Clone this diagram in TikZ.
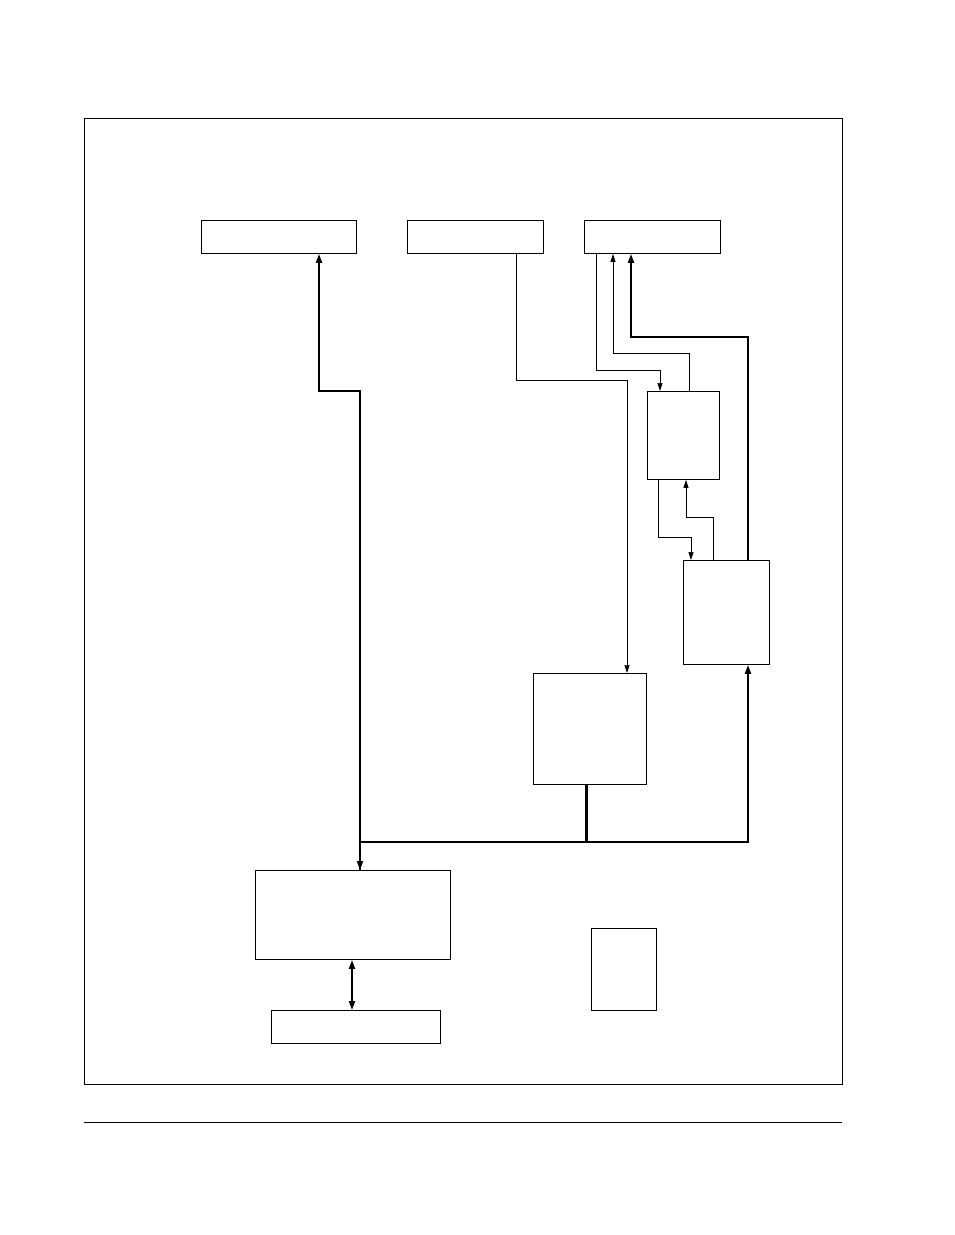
\documentclass[tikz,border=0pt]{standalone}
\usetikzlibrary{arrows.meta}
\begin{document}
\begin{tikzpicture}[x=1pt,y=-1pt,
  box/.style={draw,line width=0.9pt,inner sep=0pt,anchor=north west},
  thin/.style={line width=0.7pt},
  thick/.style={line width=2pt},
  tip/.style={-{Triangle[length=9pt,width=6pt]}},
  stip/.style={-{Triangle[length=8pt,width=5pt]}}]
\useasboundingbox (0,0) rectangle (954,1235);
\draw[line width=1pt] (84,118) rectangle (842,1084);
\draw[line width=0.8pt] (84,1122) -- (842,1122);
\newcommand{\bx}[5]{\node[box,minimum width=#4-#2,minimum height=#5-#3] (#1) at (#2,#3) {};}
\bx{A}{201}{220}{356}{253}
\bx{B}{407}{220}{543}{253}
\bx{C}{584}{220}{720}{253}
\bx{D}{647}{391}{719}{479}
\bx{E}{683}{560}{769}{664}
\bx{F}{533}{673}{646}{784}
\bx{G}{255}{870}{450}{959}
\bx{H}{271}{1010}{440}{1043}
\bx{I}{591}{928}{656}{1010}
% thick main lines
\draw[thick,tip] (G.north -| 360,0) -- (360,391) -- (319,391) -- (A.south -| 319,0);
\draw[thick,tip] (360,842) -- (G.north -| 360,0);
\draw[thick,tip] (360,842) -- (748,842) -- (E.south -| 748,0);
\draw[line width=3pt] (F.south -| 586,0) -- (586,842);
\draw[thick,tip] (E.north -| 748,0) -- (748,337) -- (631,337) -- (C.south -| 631,0);
\draw[thick,{Triangle[length=9pt,width=6pt]}-{Triangle[length=9pt,width=6pt]}] (G.south -| 352,0) -- (H.north -| 352,0);
% thin lines
\draw[thin,stip] (B.south -| 516,0) -- (516,380) -- (627,380) -- (F.north -| 627,0);
\draw[thin,stip] (C.south -| 596,0) -- (596,370) -- (660,370) -- (D.north -| 660,0);
\draw[thin,stip] (D.north -| 689,0) -- (689,353) -- (613,353) -- (C.south -| 613,0);
\draw[thin,stip] (D.south -| 658,0) -- (658,537) -- (691,537) -- (E.north -| 691,0);
\draw[thin,stip] (E.north -| 713,0) -- (713,517) -- (686,517) -- (D.south -| 686,0);
\end{tikzpicture}
\end{document}
